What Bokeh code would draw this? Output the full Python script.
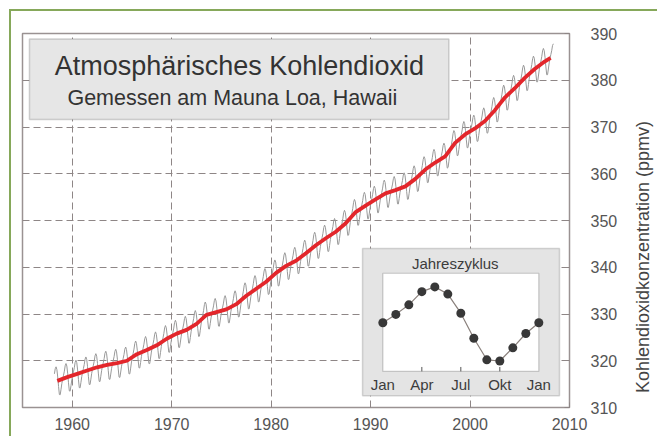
import numpy as np
from math import pi
from bokeh.plotting import figure
from bokeh.models import Range1d, FixedTicker, BoxAnnotation, Label
from bokeh.embed import file_html
from bokeh.resources import INLINE
from bokeh.core.properties import value

# ---- data ----
trend_year = list(range(1958, 2009))
trend_ppm = [315.7, 316.5, 317.2, 317.9, 318.6, 319.1, 319.5, 320.0, 321.4, 322.3,
             323.3, 324.7, 325.8, 326.6, 327.9, 329.8, 330.4, 331.0, 332.1, 333.9,
             335.4, 336.9, 338.8, 340.3, 341.4, 343.0, 344.7, 346.2, 347.6, 349.4,
             351.8, 353.2, 354.5, 355.8, 356.5, 357.3, 358.9, 360.9, 362.4, 363.7,
             366.6, 368.4, 369.7, 371.3, 373.6, 376.3, 378.3, 380.5, 382.4, 384.0,
             384.8]
# seasonal cycle (inset), Jan..Dec..Jan, deviation in ppmv
cycle_month = list(range(13))
cycle_ppm = [0.0, 0.7, 1.5, 2.6, 3.0, 2.4, 0.8, -1.3, -3.1, -3.2, -2.1, -0.9, 0.0]
cycle_tick_pos = [0, 3, 6, 9, 12]
cycle_tick_labels = ["Jan", "Apr", "Jul", "Okt", "Jan"]

x_ticks = [1960, 1970, 1980, 1990, 2000, 2010]
y_ticks = [310, 320, 330, 340, 350, 360, 370, 380, 390]

# trend positions (mid-year, last point early 2008)
trend_t = np.array([y + 0.5 for y in trend_year[:-1]] + [2008.1])
trend_v = np.array(trend_ppm)

# monthly record: trend + seasonal cycle, March 1958 .. May 2008
m_idx = np.arange(1958 * 12 + 2, 2008 * 12 + 5)
t_month = m_idx / 12.0 + 0.5 / 12.0
monthly = np.interp(t_month, trend_t, trend_v) + np.array(cycle_ppm[:12])[m_idx % 12]

FONT = "Liberation Sans"
GRID = "#8e8686"

p = figure(width=648, height=427, x_range=Range1d(1955, 2010), y_range=Range1d(310, 390),
           y_axis_location="right", output_backend="svg", toolbar_location=None,
           min_border_left=11, min_border_top=22, min_border_right=90, min_border_bottom=31)
p.styles = {"margin-left": "9px", "margin-top": "9px",
            "border-left": "2px solid #86a85a", "border-top": "2px solid #86a85a"}
p.background_fill_color = "white"
p.border_fill_color = "white"
p.outline_line_color = "#9a9292"
p.outline_line_width = 1.5

p.extra_x_ranges = {"inset": Range1d(-27.72, 14.36)}
p.extra_y_ranges = {"inset": Range1d(-7.09, 24.2)}

# axes
for ax, ticks, stand in ((p.xaxis[0], x_ticks, 10), (p.yaxis[0], y_ticks, 21)):
    ax.ticker = FixedTicker(ticks=ticks)
    ax.axis_line_color = None
    ax.major_tick_in = 5
    ax.major_tick_out = 0
    ax.major_tick_line_color = GRID
    ax.minor_tick_line_color = None
    ax.major_label_standoff = stand
    ax.major_label_text_font = FONT
    ax.major_label_text_font_size = "16px"
    ax.major_label_text_color = "#555555"

p.xgrid.ticker = FixedTicker(ticks=x_ticks)
p.ygrid.ticker = FixedTicker(ticks=y_ticks)
p.grid.grid_line_color = GRID
p.grid.grid_line_dash = "7 4"
p.grid.grid_line_width = 1

# main series
p.line(t_month, monthly, line_color="#999999", line_width=1)
p.line(trend_t, trend_v, line_color="#e3262b", line_width=3.8)

# title box
p.add_layout(BoxAnnotation(left=1955.7, right=1997.87, top=388.8, bottom=371.6,
                           fill_color="#e6e6e6", fill_alpha=1,
                           line_color="#727272", line_width=1.5))
p.add_layout(Label(x=1976.8, y=383.0, text="Atmosphärisches Kohlendioxid",
                   text_font=FONT, text_font_size="27px", text_color="#333333",
                   text_align="center", text_baseline="middle"))
p.add_layout(Label(x=1976.1, y=376.1, text="Gemessen am Mauna Loa, Hawaii",
                   text_font=FONT, text_font_size="21.5px", text_color="#333333",
                   text_align="center", text_baseline="middle"))

# axis title on the right (in the right side panel, so it is not clipped)
p.add_layout(Label(x=2017.4, y=342.2, angle=pi / 2,
                   text="Kohlendioxidkonzentration (ppmv)",
                   text_font=FONT, text_font_size="18px", text_color="#444444",
                   text_align="center", text_baseline="middle"), "right")

# inset
p.add_layout(BoxAnnotation(left=-1.56, right=13.59, bottom=-6.11, top=6.21,
                           x_range_name="inset", y_range_name="inset",
                           fill_color="#e4e4e4", fill_alpha=1,
                           line_color="#7a7a7a", line_width=1.5))
p.add_layout(BoxAnnotation(left=0, right=12, bottom=-4.07, top=4.14,
                           x_range_name="inset", y_range_name="inset",
                           fill_color="white", fill_alpha=1,
                           line_color="#555555", line_width=1.2))
p.add_layout(Label(x=5.57, y=4.95, x_range_name="inset", y_range_name="inset",
                   text="Jahreszyklus", text_font=FONT, text_font_size="15px",
                   text_color="#3c3c3c", text_align="center", text_baseline="middle"))

p.segment(x0=cycle_tick_pos[1:-1], y0=[-4.07] * 3, x1=cycle_tick_pos[1:-1], y1=[-3.7] * 3,
          x_range_name="inset", y_range_name="inset",
          line_color="#555555", line_width=1, level="overlay")
p.line(cycle_month, cycle_ppm, x_range_name="inset", y_range_name="inset",
       line_color="#8a807c", line_width=1.2, level="overlay")
p.scatter(cycle_month, cycle_ppm, x_range_name="inset", y_range_name="inset",
          size=9, fill_color="#383838", line_color=None, level="overlay")
p.text(x=cycle_tick_pos, y=[-5.19] * 5, text=cycle_tick_labels,
       x_range_name="inset", y_range_name="inset",
       text_font=value(FONT), text_font_size="15px", text_color="#3c3c3c",
       text_align="center", text_baseline="middle", level="overlay")

open("out.html", "w").write(file_html(p, INLINE))
